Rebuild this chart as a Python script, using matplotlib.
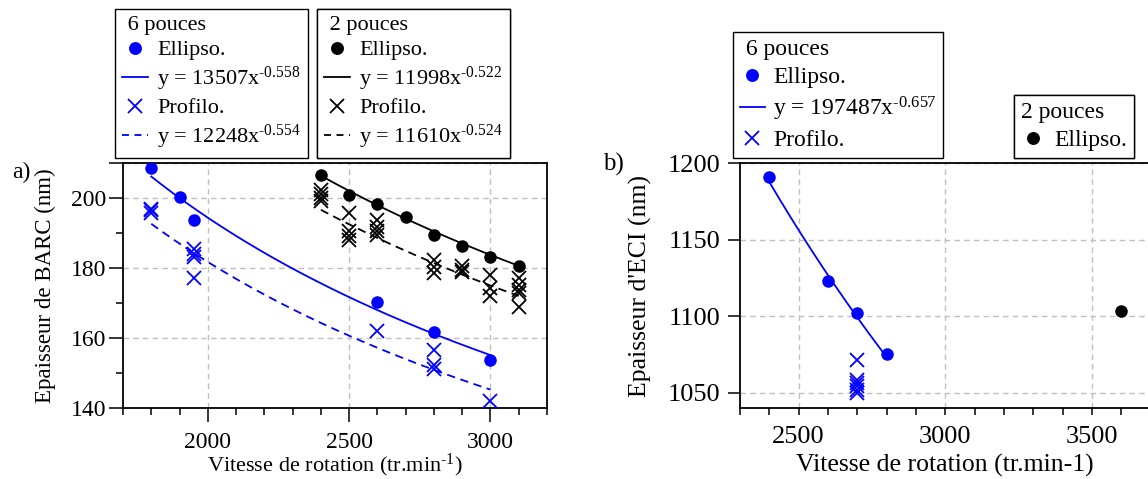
import matplotlib.pyplot as plt
from matplotlib.lines import Line2D
from matplotlib.ticker import FixedLocator, FuncFormatter
import numpy as np

plt.rcParams['font.family'] = ['Liberation Serif', 'DejaVu Serif']
plt.rcParams['mathtext.fontset'] = 'custom'
plt.rcParams['mathtext.rm'] = 'Liberation Serif'
plt.rcParams['mathtext.it'] = 'Liberation Serif:italic'
plt.rcParams['font.size'] = 16
plt.rcParams['lines.scale_dashes'] = False

BLUE = '#0000ff'
HYPH = '\u2010'  # plain hyphen in the exponents, as in the original

# --- a) BARC thickness vs spin speed ---
barc_ell6_x = [1800, 1900, 1950, 2600, 2800, 3000]
barc_ell6_y = [208.5, 200.4, 193.7, 170.3, 161.5, 153.7]
barc_pro6_x = [1800, 1800, 1800, 1950, 1950, 1950, 1950, 2600, 2800, 2800, 2800, 3000]
barc_pro6_y = [196.5, 195.8, 196.9, 185.3, 184.0, 183.2, 177.0, 162.0, 156.6, 152.1, 151.1, 142.0]
barc_ell2_x = [2400, 2500, 2600, 2700, 2800, 2900, 3000, 3100]
barc_ell2_y = [206.7, 200.9, 198.3, 194.4, 189.4, 186.1, 183.2, 180.6]
barc_pro2_x = [2400, 2400, 2400, 2400, 2500, 2500, 2500, 2500, 2600, 2600, 2600, 2600,
               2800, 2800, 2800, 2900, 2900, 2900, 3000, 3000, 3000,
               3100, 3100, 3100, 3100, 3100]
barc_pro2_y = [202.3, 201.0, 200.0, 199.0, 195.6, 190.5, 189.0, 188.0, 193.7, 191.8, 190.4, 189.4,
               182.2, 180.3, 178.4, 180.5, 179.5, 178.8, 177.9, 174.1, 171.9,
               177.0, 175.1, 173.7, 172.7, 168.8]

# power-law trendlines as printed in the legends: (coef, exponent, x from, x to)
barc_fit_ell6 = (13507, -0.558, 1800, 3000)
barc_fit_pro6 = (12248, -0.554, 1800, 3000)
barc_fit_ell2 = (11998, -0.522, 2400, 3100)
barc_fit_pro2 = (11610, -0.524, 2400, 3100)

# --- b) ECI thickness vs spin speed ---
eci_ell6_x = [2400, 2600, 2700, 2800]
eci_ell6_y = [1190.9, 1123.4, 1102.2, 1075.6]
eci_pro6_x = [2700, 2700, 2700, 2700, 2700, 2700]
eci_pro6_y = [1071.7, 1058.6, 1056.5, 1054.3, 1052.1, 1050.0]
eci_ell2_x = [3600]
eci_ell2_y = [1103.8]
eci_fit_ell6 = (197487, -0.657, 2400, 2800)

W, H = 1148, 479
fig = plt.figure(figsize=(W / 100, H / 100), dpi=100)


def px_axes(left, top, right, bottom):
    return fig.add_axes([left / W, 1 - bottom / H, (right - left) / W, (bottom - top) / H])


def fit_curve(fit):
    a, b, x0, x1 = fit
    xs = np.linspace(x0, x1, 200)
    return xs, a * xs ** b


def style_axes(ax):
    ax.set_axisbelow(True)
    ax.grid(True, which='major', color='#c0c0c0', linestyle=(0, (4, 3)), linewidth=1)
    for s in ax.spines.values():
        s.set_linewidth(1.3)


def eq(a, b):
    expo = ('%.3f' % b).replace('-', HYPH)
    return 'y = %dx$^{\\mathregular{%s}}$' % (a, expo)


def add_legend(ax, title, handles, labels, x0, y0, fs=16, spacing=0.21, hl=1.2, hp=0.4):
    leg = ax.legend(handles, labels, title=title, loc='lower left',
                    bbox_to_anchor=(x0 / W, 1 - y0 / H), bbox_transform=fig.transFigure,
                    frameon=True, fancybox=False, edgecolor='black', framealpha=1,
                    handlelength=hl, handletextpad=hp, borderpad=0.3,
                    labelspacing=spacing, alignment='left', borderaxespad=0,
                    fontsize=fs, title_fontsize=fs)
    leg.get_frame().set_linewidth(1.0)
    ax.add_artist(leg)
    return leg


def mk(color, marker=None, ls='none', dashes=None):
    h = Line2D([], [], color=color, marker=marker, linestyle=ls, markersize=8 if marker == 'o' else 10,
               markeredgewidth=1.3, linewidth=1.3)
    if dashes:
        h.set_dashes(dashes)
    return h


# ---------- panel a ----------
ax1 = px_axes(123, 163, 547, 407.5)
style_axes(ax1)
ax1.plot(barc_ell6_x, barc_ell6_y, 'o', color=BLUE, ms=8, zorder=3)
ax1.plot(barc_pro6_x, barc_pro6_y, 'x', color=BLUE, ms=10, mew=1.3, zorder=3)
ax1.plot(barc_ell2_x, barc_ell2_y, 'o', color='black', ms=8, zorder=3)
ax1.plot(barc_pro2_x, barc_pro2_y, 'x', color='black', ms=10, mew=1.3, zorder=3)
ax1.plot(*fit_curve(barc_fit_ell6), color=BLUE, lw=1.3)
l = ax1.plot(*fit_curve(barc_fit_pro6), color=BLUE, lw=1.3)[0]
l.set_dashes((6, 4))
ax1.plot(*fit_curve(barc_fit_ell2), color='black', lw=1.3)
l = ax1.plot(*fit_curve(barc_fit_pro2), color='black', lw=1.3)[0]
l.set_dashes((6, 4))

ax1.set_xlim(1700, 3200)
ax1.set_ylim(140, 210)
ax1.xaxis.set_major_locator(FixedLocator([2000, 2500, 3000]))
ax1.xaxis.set_minor_locator(FixedLocator(list(range(1700, 3201, 100))))
ax1.yaxis.set_major_locator(FixedLocator([140, 160, 180, 200, 210]))
ax1.yaxis.set_minor_locator(FixedLocator([150, 170, 190]))
ax1.yaxis.set_major_formatter(FuncFormatter(lambda v, p: '' if v == 210 else '%d' % v))
ax1.tick_params(axis='both', which='major', direction='out', length=10, width=1.1, labelsize=17)
ax1.tick_params(axis='both', which='minor', direction='out', length=5, width=1.1)
ax1.tick_params(axis='x', which='major', pad=7.5)
ax1.tick_params(axis='y', which='major', pad=2)
ax1.set_ylabel('Epaisseur de BARC (nm)', fontsize=16.5, va='baseline')
ax1.yaxis.set_label_coords((51 - 123) / 424, 0.5)
ax1.set_xlabel('Vitesse de rotation (tr.min$^{\\mathregular{%s1}}$)' % HYPH, fontsize=16, va='baseline')
ax1.xaxis.set_label_coords(0.5, (407.5 - 471) / 244.5)

add_legend(ax1, ' 6 pouces',
           [mk(BLUE, 'o'), mk(BLUE, ls='-'), mk(BLUE, 'x'), mk(BLUE, ls='--', dashes=(5, 4))],
           ['Ellipso.', eq(*barc_fit_ell6[:2]), 'Profilo.', eq(*barc_fit_pro6[:2])], 115, 158)
add_legend(ax1, ' 2 pouces',
           [mk('black', 'o'), mk('black', ls='-'), mk('black', 'x'), mk('black', ls='--', dashes=(5, 4))],
           ['Ellipso.', eq(*barc_fit_ell2[:2]), 'Profilo.', eq(*barc_fit_pro2[:2])], 317, 158)

# ---------- panel b ----------
ax2 = px_axes(740, 163.3, 1180, 408.3)
style_axes(ax2)
ax2.spines['right'].set_visible(False)
ax2.plot(eci_ell6_x, eci_ell6_y, 'o', color=BLUE, ms=8, zorder=3)
ax2.plot(eci_pro6_x, eci_pro6_y, 'x', color=BLUE, ms=10, mew=1.3, zorder=3)
ax2.plot(eci_ell2_x, eci_ell2_y, 'o', color='black', ms=8, zorder=3)
ax2.plot(*fit_curve(eci_fit_ell6), color=BLUE, lw=1.3)

ax2.set_xlim(2300, 3800)
ax2.set_ylim(1040, 1200)
ax2.xaxis.set_major_locator(FixedLocator([2500, 3000, 3500]))
ax2.xaxis.set_minor_locator(FixedLocator(list(range(2300, 3801, 100))))
ax2.yaxis.set_major_locator(FixedLocator([1050, 1100, 1150, 1200]))
ax2.tick_params(axis='both', which='major', direction='out', width=1.1, labelsize=19)
ax2.tick_params(axis='x', which='both', length=5, width=1.1, direction='out')
ax2.tick_params(axis='x', which='major', pad=7.5)
ax2.tick_params(axis='y', which='major', length=9, pad=5)
ax2.set_ylabel("Epaisseur d'ECI (nm)", fontsize=18.5, va='baseline')
ax2.yaxis.set_label_coords((647 - 740) / 440, 0.5)
ax2.set_xlabel('Vitesse de rotation (tr.min-1)', fontsize=18.5, va='baseline')
ax2.xaxis.set_label_coords((945 - 740) / 440, (408.3 - 471.5) / 245)

add_legend(ax2, ' 6 pouces',
           [mk(BLUE, 'o'), mk(BLUE, ls='-'), mk(BLUE, 'x')],
           ['Ellipso.', eq(*eci_fit_ell6[:2]), 'Profilo.'], 733, 158,
           fs=17, spacing=0.28, hl=1.05, hp=0.35)
add_legend(ax2, '2 pouces', [mk('black', 'o')], ['Ellipso.'], 1014, 158,
           fs=17, spacing=0.28, hl=1.05, hp=0.35)

fig.text(21 / W, 1 - 172 / H, 'a)', ha='center', va='center', fontsize=17)
fig.text(613 / W, 1 - 164 / H, 'b)', ha='center', va='center', fontsize=18)

fig.savefig('out.png', dpi=100)
